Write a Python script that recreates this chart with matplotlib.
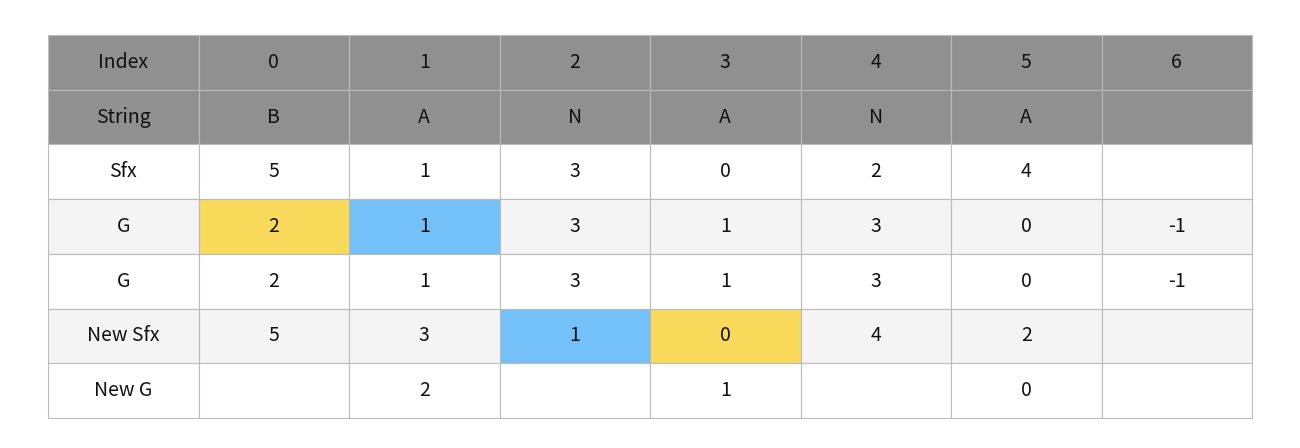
import matplotlib
matplotlib.use("Agg")
import matplotlib.pyplot as plt
from matplotlib.patches import Rectangle

row_labels = ["Index", "String", "Sfx", "G", "G", "New Sfx", "New G"]
rows = [
    ["0", "1", "2", "3", "4", "5", "6"],
    ["B", "A", "N", "A", "N", "A", ""],
    ["5", "1", "3", "0", "2", "4", ""],
    ["2", "1", "3", "1", "3", "0", "-1"],
    ["2", "1", "3", "1", "3", "0", "-1"],
    ["5", "3", "1", "0", "4", "2", ""],
    ["", "2", "", "1", "", "0", ""],
]
highlights = {(3, 0): "#f9da5b", (3, 1): "#74c0f8", (5, 2): "#74c0f8", (5, 3): "#f9da5b"}

plt.rcParams['font.family'] = ['Noto Sans CJK KR', 'DejaVu Sans']
fig = plt.figure(figsize=(13, 4.48), dpi=100)
ax = fig.add_axes([0, 0, 1, 1])
ax.set_xlim(0, 1300)
ax.set_ylim(448, 0)
ax.axis("off")

x0, y0, x1, y1 = 48, 35, 1252, 418
ncol = 8
nrow = len(rows)
cw = (x1 - x0) / ncol
rh = (y1 - y0) / nrow
for r in range(nrow):
    cells = [row_labels[r]] + rows[r]
    for c in range(ncol):
        if r < 2:
            fc = "#909090"
        elif (r, c - 1) in highlights:
            fc = highlights[(r, c - 1)]
        else:
            fc = "#ffffff" if r % 2 == 0 else "#f4f4f4"
        ax.add_patch(Rectangle((x0 + c * cw, y0 + r * rh), cw, rh, facecolor=fc,
                               edgecolor="#bbbbbb", linewidth=0.8))
        ax.text(x0 + (c + 0.5) * cw, y0 + (r + 0.5) * rh, cells[c].replace("-", "\u2212") if False else cells[c],
                ha="center", va="center", fontsize=14, color="#111111")
fig.savefig("out.png", dpi=100)
